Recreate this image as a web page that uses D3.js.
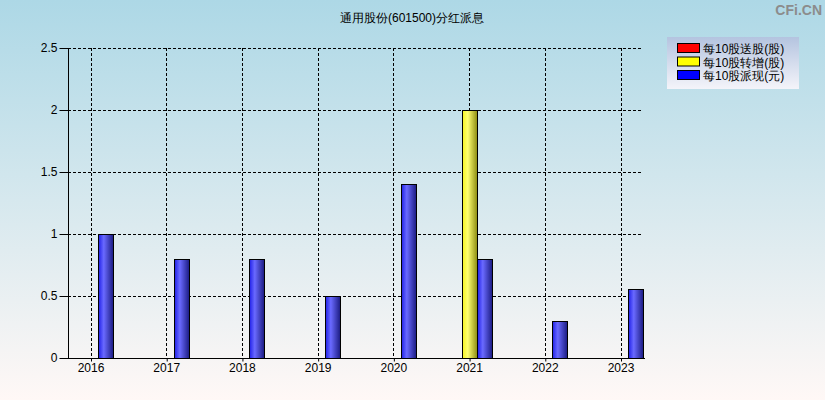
<!DOCTYPE html>
<html>
<head>
<meta charset="utf-8">
<script src="https://cdn.jsdelivr.net/npm/d3@7"></script>
<style>
  body { margin: 0; padding: 0; }
  svg { display: block; font-family: "Liberation Sans", Arial, sans-serif; }
</style>
</head>
<body>
<svg id="chart" width="825" height="400"></svg>
<script>
// data
const years = ["2016", "2017", "2018", "2019", "2020", "2021", "2022", "2023"];
const songGu = [0, 0, 0, 0, 0, 0, 0, 0];          // 每10股送股(股)
const zhuanZeng = [0, 0, 0, 0, 0, 2, 0, 0];       // 每10股转增(股)
const paiXian = [1, 0.8, 0.8, 0.5, 1.4, 0.8, 0.3, 0.56]; // 每10股派现(元)
const seriesNames = ["每10股送股(股)", "每10股转增(股)", "每10股派现(元)"];
const yTicks = [0, 0.5, 1, 1.5, 2, 2.5];

(function () {
let svg = d3.select("#chart");
let width = +svg.attr("width");
let height = +svg.attr("height");

let defs = svg.append("defs");

let bg = defs.append("linearGradient").attr("id", "bg").attr("x1", 0).attr("y1", 0).attr("x2", 0).attr("y2", 1);
bg.append("stop").attr("offset", "0%").attr("stop-color", "#add8e6");
bg.append("stop").attr("offset", "100%").attr("stop-color", "#fff8f6");

let lg = defs.append("linearGradient").attr("id", "lg").attr("x1", 0).attr("y1", 0).attr("x2", 0).attr("y2", 1);
lg.append("stop").attr("offset", "0%").attr("stop-color", "#b4c4e0");
lg.append("stop").attr("offset", "100%").attr("stop-color", "#f4f4fa");

function barGrad(id, dark, light, darker) {
	let g = defs.append("linearGradient").attr("id", id).attr("x1", 0).attr("y1", 0).attr("x2", 1).attr("y2", 0);
	g.append("stop").attr("offset", "0%").attr("stop-color", dark);
	g.append("stop").attr("offset", "35%").attr("stop-color", light);
	g.append("stop").attr("offset", "100%").attr("stop-color", darker);
}
barGrad("gRed", "#e00000", "#ff6060", "#800000");
barGrad("gYellow", "#f4f420", "#ffff70", "#8a8a10");
barGrad("gBlue", "#2020e8", "#6a6aff", "#1a1a80");

svg.append("rect").attr("width", width).attr("height", height).attr("fill", "url(#bg)");

// title + watermark
svg.append("text").attr("x", 412).attr("y", 22).attr("text-anchor", "middle")
	.attr("font-size", 12).attr("fill", "#000").text("通用股份(601500)分红派息");
svg.append("text").attr("x", 822).attr("y", 15).attr("text-anchor", "end")
	.attr("font-size", 14).attr("font-weight", "bold").attr("fill", "#8c8c8c").text("CFi.CN");

let pLeft = 68, pRight = 643, pTop = 48, pBottom = 358;

let x = d3.scalePoint().domain(years).range([90.5, 620.5]);
let y = d3.scaleLinear().domain([0, 2.5]).range([pBottom, pTop]);

let grid = svg.append("g").attr("stroke", "#000").attr("stroke-dasharray", "3,2").attr("stroke-width", 1);
grid.selectAll(".hg").data(yTicks.filter(d => d > 0)).enter().append("line")
	.attr("x1", pLeft).attr("x2", pRight)
	.attr("y1", d => Math.round(y(d)) + 0.5).attr("y2", d => Math.round(y(d)) + 0.5);
grid.selectAll(".vg").data(years).enter().append("line")
	.attr("x1", d => Math.round(x(d)) + 0.5).attr("x2", d => Math.round(x(d)) + 0.5)
	.attr("y1", pTop).attr("y2", pBottom);

// bars
let bw = 15;
let series = [
	{ vals: songGu, fill: "url(#gRed)", off: -1.5 },
	{ vals: zhuanZeng, fill: "url(#gYellow)", off: -0.5 },
	{ vals: paiXian, fill: "url(#gBlue)", off: 0.5 }
];
series.forEach(s => {
	svg.append("g").selectAll("rect").data(years.map((yr, i) => ({ yr, v: s.vals[i] })).filter(d => d.v > 0))
		.enter().append("rect")
		.attr("x", d => Math.round(x(d.yr) + s.off * bw) + 0.5)
		.attr("y", d => Math.round(y(d.v)) + 0.5)
		.attr("width", bw)
		.attr("height", d => pBottom - Math.round(y(d.v)))
		.attr("fill", s.fill)
		.attr("stroke", "#000").attr("stroke-width", 1);
});

// axes
let yAxis = svg.append("g").attr("transform", `translate(${pLeft + 0.5},0)`)
	.call(d3.axisLeft(y).tickValues(yTicks).tickSize(9).tickPadding(2).tickFormat(d3.format("")));
yAxis.selectAll("text").attr("font-size", 12).attr("fill", "#000").attr("font-family", "Liberation Sans, Arial, sans-serif");
yAxis.select(".domain").attr("d", `M0,${pTop}V${pBottom + 0.5}`);

let xAxis = svg.append("g").attr("transform", `translate(0,${pBottom + 0.5})`)
	.call(d3.axisBottom(x).tickSize(3).tickPadding(2));
xAxis.selectAll("text").attr("font-size", 12).attr("fill", "#000").attr("font-family", "Liberation Sans, Arial, sans-serif");
xAxis.select(".domain").attr("d", `M${pLeft},0H${pRight + 2}`);
xAxis.selectAll(".tick line").attr("transform", "translate(0.5,0)");

// legend
let legend = svg.append("g");
legend.append("rect").attr("x", 667).attr("y", 37).attr("width", 132).attr("height", 52).attr("fill", "url(#lg)");
let legColors = ["#ff0000", "#ffff00", "#0000ff"];
seriesNames.forEach((n, i) => {
	let yy = 43 + i * 13.5;
	legend.append("rect").attr("x", 677.5).attr("y", yy + 0.5).attr("width", 22).attr("height", 9)
		.attr("fill", legColors[i]).attr("stroke", "#000");
	legend.append("text").attr("x", 703).attr("y", yy + 10).attr("font-size", 12)
		.attr("fill", "#000").text(n);
});
})();
</script>
</body>
</html>
